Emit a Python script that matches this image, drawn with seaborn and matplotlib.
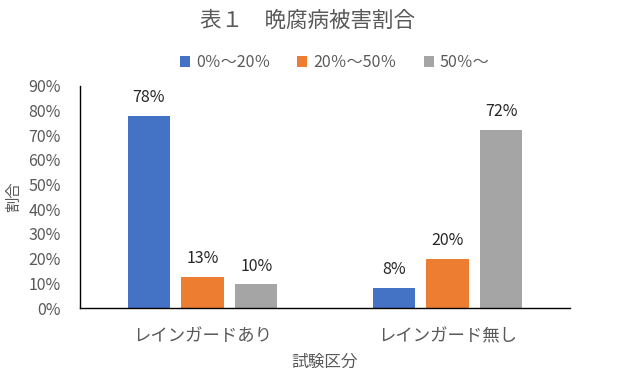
import pandas as pd
import matplotlib.pyplot as plt
import seaborn as sns
from matplotlib.ticker import PercentFormatter

sns.set_style("white")
plt.rcParams['font.family'] = ['Noto Sans CJK JP', 'DejaVu Sans']

# data (percent)
groups = ["レインガードあり", "レインガード無し"]
ranges = ["0％～20％", "20％～50％", "50％～"]
low = [77.8, 8.1]
mid = [12.6, 19.9]
high = [9.6, 72.2]
colors = ["#4472C4", "#ED7D31", "#A5A5A5"]

df = pd.DataFrame({
    "試験区分": groups * 3,
    "被害": [r for r in ranges for _ in groups],
    "割合": low + mid + high,
})

fig = plt.figure(figsize=(6.22, 3.77), dpi=100)
ax = fig.add_axes([0.1286, 0.183, 0.7878, 0.589])

sns.barplot(data=df, x="試験区分", y="割合", hue="被害", hue_order=ranges,
            palette=colors, saturation=1, width=0.66, gap=0.22, linewidth=0,
            ax=ax, legend=True)

for cont in ax.containers:
    ax.bar_label(cont, labels=[f"{v:.0f}%" for v in cont.datavalues],
                 padding=7, fontsize=11.5, color="#262626")

ax.set_ylim(0, 90)
ax.set_xlim(-0.5, 1.5)
ax.set_yticks(range(0, 91, 10))
ax.yaxis.set_major_formatter(PercentFormatter(decimals=0))
ax.tick_params(axis="y", length=0, labelsize=11.5, labelcolor="#595959", pad=14)
ax.tick_params(axis="x", length=0, labelsize=12.5, labelcolor="#595959", pad=14)

for s in ["top", "right"]:
    ax.spines[s].set_visible(False)
ax.spines["left"].set_color("#000000")
ax.spines["bottom"].set_color("#000000")
ax.spines["left"].set_linewidth(1.0)
ax.spines["bottom"].set_linewidth(1.0)

ax.set_xlabel("試験区分", fontsize=12, color="#595959", labelpad=6)
ax.set_ylabel("割合", fontsize=11, color="#595959", labelpad=4)

fig.suptitle("表１　晩腐病被害割合", x=0.495, y=0.975, fontsize=15.5, color="#595959")

leg = ax.legend(loc="center", bbox_to_anchor=(0.52, 1.105), ncol=3,
                frameon=False, fontsize=11.5, handlelength=0.6, handleheight=0.6,
                handletextpad=0.4, columnspacing=1.7)
for t in leg.get_texts():
    t.set_color("#595959")

fig.savefig("out.png", dpi=100)
